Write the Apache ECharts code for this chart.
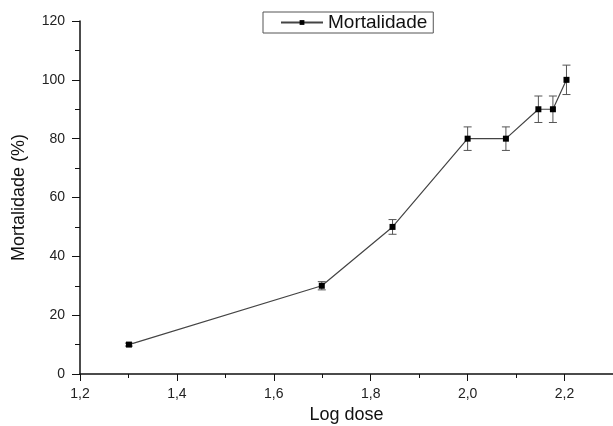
<!DOCTYPE html>
<html>
<head>
<meta charset="utf-8">
<script src="https://cdn.jsdelivr.net/npm/echarts@6/dist/echarts.min.js"></script>
<style>
    html, body { margin: 0; padding: 0; background: #fff; }
    #chart_main { width: 613px; height: 426px; }
</style>
</head>
<body>
<div id="chart_main"></div>
<script>
// dados
let log_dose = [1.301, 1.699, 1.845, 2.0, 2.079, 2.146, 2.176, 2.204];
let mortalidade = [10, 30, 50, 80, 80, 90, 90, 100];
let erro = [0.5, 1.4, 2.5, 4, 4, 4.5, 4.5, 5];

let myChart = echarts.init(document.getElementById('chart_main'));

function fmtComma(v) {
    return v.toFixed(1).replace('.', ',');
}

let line_data = [];
let err_data = [];
for (let i = 0; i < log_dose.length; i++) {
    line_data.push([log_dose[i], mortalidade[i]]);
    err_data.push([log_dose[i], mortalidade[i] - erro[i], mortalidade[i] + erro[i]]);
}

// barra de erro desenhada com custom series
function renderErro(params, api) {
    let x = api.value(0);
    let low = api.coord([x, api.value(1)]);
    let high = api.coord([x, api.value(2)]);
    let half = 4;
    let st = { stroke: '#555', lineWidth: 1 };
    return {
        type: 'group',
        children: [
            { type: 'line', shape: { x1: low[0], y1: low[1], x2: high[0], y2: high[1] }, style: st },
            { type: 'line', shape: { x1: low[0] - half, y1: low[1], x2: low[0] + half, y2: low[1] }, style: st },
            { type: 'line', shape: { x1: high[0] - half, y1: high[1], x2: high[0] + half, y2: high[1] }, style: st }
        ]
    };
}

let axis_font = { color: '#222', fontSize: 14, fontFamily: 'Liberation Sans' };

let option = {
    animation: false,
    textStyle: { fontFamily: 'Liberation Sans' },
    grid: { left: 80, right: 0, top: 21, bottom: 52, outerBoundsMode: 'none', containLabel: false },
    legend: {
        left: 263,
        top: 12,
        padding: [1, 6, 1, 17],
        itemWidth: 42,
        itemHeight: 6,
        itemGap: 8,
        borderColor: '#555',
        borderWidth: 1,
        textStyle: { fontSize: 19, color: '#111', fontFamily: 'Liberation Sans' },
        data: ['Mortalidade']
    },
    xAxis: {
        type: 'value',
        min: 1.2,
        max: 2.3,
        interval: 0.2,
        name: 'Log dose',
        nameLocation: 'middle',
        nameGap: 29,
        nameTextStyle: { fontSize: 18, color: '#111' },
        axisLine: { lineStyle: { color: '#111', width: 1.5 } },
        axisTick: { length: 7, lineStyle: { color: '#111' } },
        minorTick: { show: true, splitNumber: 2, length: 4, lineStyle: { color: '#111' } },
        splitLine: { show: false },
        axisLabel: Object.assign({ margin: 13, showMaxLabel: false, formatter: fmtComma }, axis_font)
    },
    yAxis: {
        type: 'value',
        min: 0,
        max: 120,
        interval: 20,
        name: 'Mortalidade (%)',
        nameLocation: 'middle',
        nameGap: 52,
        nameTextStyle: { fontSize: 18, color: '#111' },
        axisLine: { show: true, lineStyle: { color: '#111', width: 1.5 } },
        axisTick: { show: true, length: 8, lineStyle: { color: '#111' } },
        minorTick: { show: true, splitNumber: 2, length: 5, lineStyle: { color: '#111' } },
        splitLine: { show: false },
        axisLabel: Object.assign({ margin: 15 }, axis_font)
    },
    series: [
        {
            name: 'Mortalidade',
            type: 'line',
            data: line_data,
            symbol: 'rect',
            symbolSize: 6,
            itemStyle: { color: '#000' },
            lineStyle: { color: '#444', width: 1.2 },
            z: 3
        },
        {
            name: 'erro',
            type: 'custom',
            data: err_data,
            renderItem: renderErro,
            encode: { x: 0, y: [1, 2] },
            z: 2
        }
    ]
};

myChart.setOption(option);
</script>
</body>
</html>
